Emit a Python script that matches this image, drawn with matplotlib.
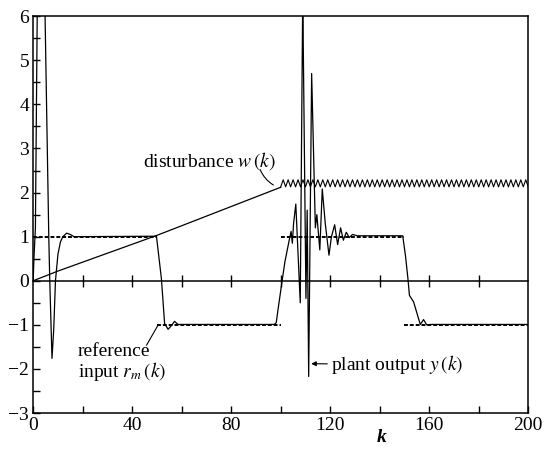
import numpy as np
import matplotlib.pyplot as plt

plt.rcParams['font.family'] = ['Liberation Serif', 'DejaVu Serif']
plt.rcParams['mathtext.fontset'] = 'stix'

# reference input r_m(k): constant levels per segment
r_start = [0, 50, 100, 150]
r_end = [50, 100, 150, 200]
r_level = [1, -1, 1, -1]

# disturbance w(k): ramp up to k=100, then oscillation
w_ramp_k = [0, 10, 50, 100]
w_ramp = [0, 0.22, 1.03, 2.12]
w_osc_k = list(range(100, 201))
w_osc = [2.13, 2.29, 2.13, 2.29, 2.13, 2.29, 2.13, 2.29, 2.13, 2.29,
         2.13, 2.29, 2.13, 2.29, 2.13, 2.29, 2.13, 2.29, 2.13, 2.29,
         2.13, 2.29, 2.13, 2.29, 2.13, 2.29, 2.13, 2.29, 2.13, 2.29,
         2.13, 2.29, 2.13, 2.29, 2.13, 2.29, 2.13, 2.29, 2.13, 2.29,
         2.13, 2.29, 2.13, 2.29, 2.13, 2.29, 2.13, 2.29, 2.13, 2.29,
         2.13, 2.29, 2.13, 2.29, 2.13, 2.29, 2.13, 2.29, 2.13, 2.29,
         2.13, 2.29, 2.13, 2.29, 2.13, 2.29, 2.13, 2.29, 2.13, 2.29,
         2.13, 2.29, 2.13, 2.29, 2.13, 2.29, 2.13, 2.29, 2.13, 2.29,
         2.13, 2.29, 2.13, 2.29, 2.13, 2.29, 2.13, 2.29, 2.13, 2.29,
         2.13, 2.29, 2.13, 2.29, 2.13, 2.29, 2.13, 2.29, 2.13, 2.29,
         2.13]

# plant output y(k)
y_k = [0, 0.3, 0.9, 1.7, 3.0, 4.8, 6.3, 6.7, 7.6, 8.3, 9.0, 10.0, 11.0, 12.0,
       13.5, 15.0, 16.5, 49.8, 51.8, 53.1, 54.5, 55.8, 57.1, 58.5, 97.4,
       98.2, 98.8, 100.7, 101.7, 103.4, 104.2, 104.7, 105.2, 106.1, 107.9,
       108.9, 110.2, 110.7, 111.3, 112.5, 114.0, 114.6, 115.8, 116.8, 118.0,
       119.5, 120.5, 121.8, 123.0, 124.2, 125.3, 126.5, 127.7, 129.0, 131.0,
       149.3, 150.4, 151.4, 152.0, 153.7, 155.7, 156.4, 157.7, 159.0, 161.0,
       200]
y_val = [0, 0.5, 1.2, 6.5, 11.0, 6.0, 1.0, 0.0, -1.76, -1.1, 0.0, 0.6, 0.88,
         1.0, 1.08, 1.05, 1.0, 1.01, 0.05, -0.97, -1.1, -1.02, -0.92, -0.99,
         -0.99, -0.95, -0.7, 0.05, 0.43, 0.91, 1.12, 0.85, 1.3, 1.74, -0.5,
         6.5, -0.4, 1.6, -2.17, 4.7, 1.2, 1.5, 0.7, 2.08, 1.3, 0.58, 1.0,
         1.27, 0.82, 1.2, 0.92, 1.1, 0.98, 1.05, 1.02, 1.02, 0.57, 0.05,
         -0.33, -0.48, -0.86, -0.99, -0.88, -1.0, -0.99, -0.99]

fig = plt.figure(figsize=(5.44, 4.49), dpi=100)
ax = fig.add_axes([0.061, 0.080, 0.910, 0.884])

ax.hlines(r_level, r_start, r_end, colors='k', linestyles=(0, (2, 1)), lw=1.4)
ax.plot(w_ramp_k, w_ramp, color='k', lw=0.9)
ax.plot(w_osc_k, w_osc, color='k', lw=0.8)
ax.plot(y_k, y_val, color='k', lw=0.9)

ax.set_xlim(0, 200)
ax.set_ylim(-3, 6)

xt = list(range(0, 201, 20))
ax.set_xticks(xt)
ax.set_xticklabels([str(v) if v % 40 == 0 else '' for v in xt])
yt = np.arange(-3, 6.01, 0.5)
ax.set_yticks(yt)
ax.set_yticklabels([('\u2212%d' % -v if v < 0 else '%d' % v) if v == int(v) else '' for v in yt])
ax.tick_params(direction='in', length=5, width=1, labelsize=14, pad=3)
for s in ax.spines.values():
    s.set_linewidth(1.1)

# zero line with its own tick marks
sec = ax.secondary_xaxis(1 / 3)
sec.set_xticks(list(range(20, 200, 20)))
sec.tick_params(direction='inout', length=9, width=1, labelbottom=False, labeltop=False)
for s in sec.spines.values():
    s.set_linewidth(1.1)

ax.set_xlabel('k', fontstyle='italic', fontweight='bold', fontsize=14)
ax.xaxis.set_label_coords(0.703, -0.04)

# annotations
ax.text(44.4, 2.6, r'disturbance $w\,(k)$', fontsize=14, va='baseline')
ax.annotate('', xy=(98, 2.14), xytext=(91.3, 2.58),
            arrowprops=dict(arrowstyle='-', lw=0.8, connectionstyle='arc3,rad=0.2'))

ax.text(18, -1.40, 'reference\n' + r'input $r_m\,(k)$', fontsize=14,
        va='top', linespacing=1.0)
ax.plot([45.8, 50.4], [-1.46, -1.01], color='k', lw=0.8)

ax.annotate(r'plant output $y\,(k)$', xy=(112.3, -1.88), xytext=(120.5, -1.9),
            fontsize=14, va='center',
            arrowprops=dict(arrowstyle='-|>', lw=0.8, color='k',
                            mutation_scale=7, shrinkA=1, shrinkB=0))

fig.savefig('out.png', dpi=100)
